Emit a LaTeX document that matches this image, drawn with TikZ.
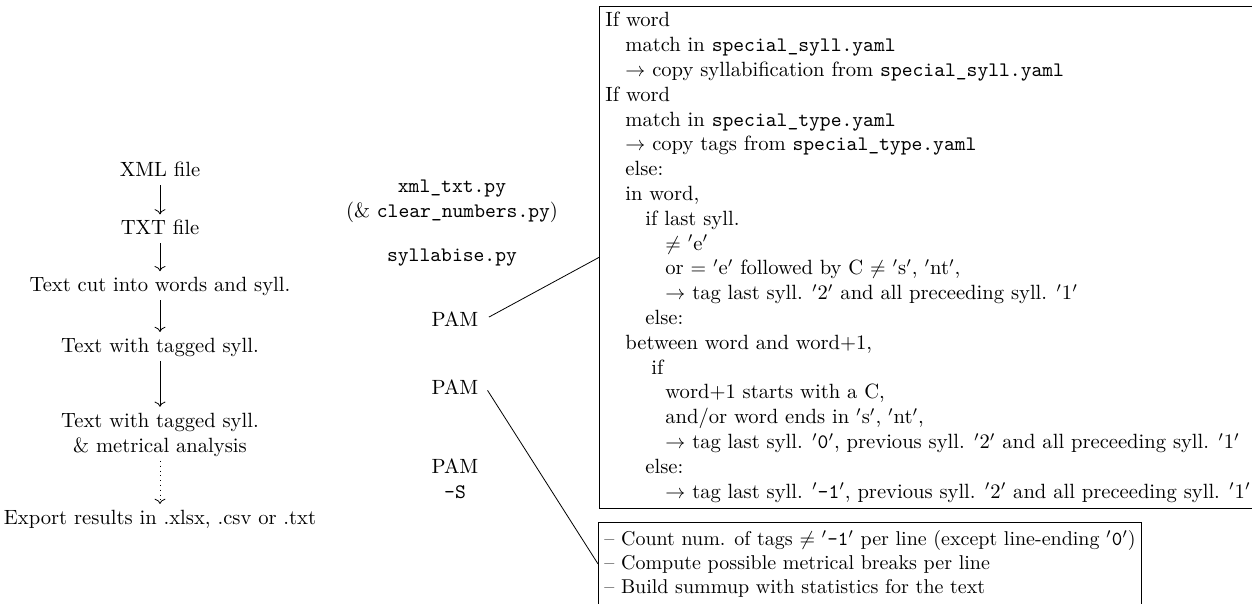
\documentclass[tikz,border=0pt]{standalone}
\usetikzlibrary{positioning, arrows.meta}
\newcommand{\comi}[1]{$'$#1$'$}

\begin{document}
\begin{tikzpicture}[
    x=0.5pt, y=-0.5pt,
    every node/.style={font=\fontsize{10.3}{12.4}\selectfont},
    etapa/.style={inner sep=2pt, align=center},
    fase/.style={etapa, text height=7pt, text depth=2pt},
    prog/.style={align=center},
    caja/.style={draw, align=left, anchor=north west, inner sep=3pt},
    sigue/.style={-{To[length=2.6pt, width=5.5pt]}, shorten >=1pt},
    linea/.style={shorten <=2pt}
]
\useasboundingbox (0,0) rectangle (1252,604);

% pipeline
\node[fase] (xml) at (160,172) {XML file};
\node[fase, below=15.5pt of xml] (txt) {TXT file};
\node[fase, below=15pt of txt] (cut) {Text cut into words and syll.};
\node[fase, below=17pt of cut] (tag) {Text with tagged syll.};
\node[etapa, below=24pt of tag] (tagm) {Text with tagged syll.\\\& metrical analysis};
\node[fase, below=22.5pt of tagm] (expo) {Export results in .xlsx, .csv or .txt};
\draw[sigue] (xml) -- (txt);
\draw[sigue] (txt) -- (cut);
\draw[sigue] (cut) -- (tag);
\draw[sigue] (tag) -- (tagm);
\draw[sigue, dotted] (tagm) -- (expo);

% scripts
\node[prog] (xmltxt) at (452,201) {\texttt{xml\_txt.py}\\(\& \texttt{clear\_numbers.py})};
\node[prog] (sylla) at (452,258) {\texttt{syllabise.py}};
\node[prog] (pama) at (455,319) {PAM};
\node[prog] (pamb) at (455,387) {PAM};
\node[prog] (pams) at (455,479) {PAM\\\texttt{-S}};

% what PAM does
\node[caja] (reglas) at (599,6) {If word\\
\hspace*{10pt}match in \texttt{special\_syll.yaml}\\
\hspace*{10pt}$\rightarrow$ copy syllabification from \texttt{special\_syll.yaml}\\
If word\\
\hspace*{10pt}match in \texttt{special\_type.yaml}\\
\hspace*{10pt}$\rightarrow$ copy tags from \texttt{special\_type.yaml}\\
\hspace*{10pt}else:\\
\hspace*{10pt}in word,\\
\hspace*{20pt}if last syll.\\
\hspace*{30pt}$\neq$ \comi{e}\\
\hspace*{30pt}or $=$ \comi{e} followed by C $\neq$ \comi{s}, \comi{nt},\\
\hspace*{30pt}$\rightarrow$ tag last syll. \comi{2} and all preceeding syll. \comi{1}\\
\hspace*{20pt}else:\\
\hspace*{10pt}between word and word+1,\\
\hspace*{23pt}if\\
\hspace*{30pt}word+1 starts with a C,\\
\hspace*{30pt}and/or word ends in \comi{s}, \comi{nt},\\
\hspace*{30pt}$\rightarrow$ tag last syll. \comi{\texttt{0}}, previous syll. \comi{2} and all preceeding syll. \comi{1}\\
\hspace*{20pt}else:\\
\hspace*{30pt}$\rightarrow$ tag last syll. \comi{\texttt{-1}}, previous syll. \comi{2} and all preceeding syll. \comi{1}};
\node[caja, font=\fontsize{10}{12}\selectfont, minimum height=41.5pt] (stats) at (598,522) {-- Count num. of tags $\neq$ \comi{\texttt{-1}} per line (except line-ending \comi{\texttt{0}})\\
-- Compute possible metrical breaks per line\\
-- Build summup with statistics for the text};

\draw[linea] (pama.east) -- (reglas.west);
\draw[linea] (pamb.east) -- (stats.west);
\end{tikzpicture}
\end{document}
